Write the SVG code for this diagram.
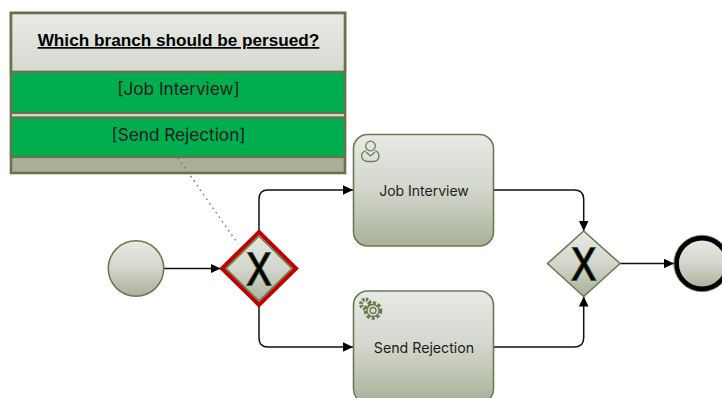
<svg xmlns="http://www.w3.org/2000/svg" width="722" height="398" viewBox="0 0 722 398">
<style>
.s{stroke:#6b7a50;stroke-width:1.6}
.t{font-family:Inter,"Liberation Sans",sans-serif;fill:#1c1c1c;text-anchor:middle}
.c{fill:none;stroke:#111;stroke-width:1.5}
.x{font-family:"Liberation Sans",sans-serif;font-size:47px;fill:#000;stroke:#47552e;stroke-width:2.200;text-anchor:middle;paint-order:stroke}
.i{fill:none;stroke:#6b7a50;stroke-width:1.3}
</style>
<defs>
<linearGradient id="g" x1="0" y1="0" x2="0" y2="1"><stop offset="0" stop-color="#e8eae5"/><stop offset=".5" stop-color="#d2d6cb"/><stop offset="1" stop-color="#a9b09a"/></linearGradient>
<linearGradient id="h" x1="0" y1="0" x2="0" y2="1"><stop offset="0" stop-color="#e8eae5"/><stop offset="1" stop-color="#d6d9d1"/></linearGradient>
<marker id="a" markerUnits="userSpaceOnUse" markerWidth="11" markerHeight="12" refX="10" refY="6" orient="auto"><path d="M0 1.200L10 6L0 10.800Z" fill="#000"/></marker>
</defs>
<g id="annotation">
<rect x="11" y="13" width="334" height="160" fill="#a9af98" stroke="#68734c" stroke-width="2.600"/>
<rect x="11" y="13" width="334" height="59" fill="url(#h)" stroke="#68734c" stroke-width="2.600"/>
<rect x="11" y="72" width="334" height="41" fill="#00ae50" stroke="#68734c" stroke-width="2.200"/>
<rect x="12" y="114" width="332" height="3" fill="#d5d8cf"/>
<rect x="11" y="117.500" width="334" height="39.500" fill="#00ae50" stroke="#68734c" stroke-width="2.200"/>
<text x="178.500" y="46" font-family="Liberation Sans,sans-serif" font-size="17.200" font-weight="700" text-anchor="middle" text-decoration="underline" fill="#000">Which branch should be persued?</text>
<text class="t" x="178.500" y="94.500" font-size="17.200">[Job Interview]</text>
<text class="t" x="178.500" y="141" font-size="17.200">[Send Rejection]</text>
</g>
<g id="connectors">
<path class="c" d="M164 268.500H220.500" marker-end="url(#a)"/>
<path class="c" d="M259 232V199Q259 190 268 190H353" marker-end="url(#a)"/>
<path class="c" d="M259 305V338Q259 347 268 347H353" marker-end="url(#a)"/>
<path class="c" d="M494 190H574Q583.700 190 583.700 199V231" marker-end="url(#a)"/>
<path class="c" d="M494 347H574Q583.700 347 583.700 338V296.500" marker-end="url(#a)"/>
<path class="c" d="M620 263.500H674" marker-end="url(#a)"/>
<path d="M178 158L238 244" fill="none" stroke="#77795f" stroke-width="1.500" stroke-dasharray="1.500 4"/>
</g>
<g id="start"><circle cx="136" cy="268.500" r="27.700" fill="url(#g)" class="s"/></g>
<g id="gateway1">
<path d="M259 232L296 268.500L259 305L222 268.500Z" fill="url(#g)" stroke="#c00000" stroke-width="4"/>
<path d="M259 236L292 268.500L259 301L226 268.500Z" fill="none" class="s"/>
<text class="x" x="259" y="285.500" transform="translate(259 0) scale(.78 1) translate(-259 0)">X</text>
</g>
<g id="task1">
<rect x="353.500" y="134.500" width="140" height="111.500" rx="14" fill="url(#g)" class="s"/>
<circle class="i" cx="370.500" cy="146" r="4.800"/>
<path class="i" d="M366 150.500C359 153 361 161.500 368 161.500H373C380 161.500 381 153 375 150.500M366 152L370.500 156L375 152"/>
<text class="t" x="424" y="196" font-size="14">Job Interview</text>
</g>
<g id="task2">
<rect x="353.500" y="291" width="140" height="112" rx="14" fill="url(#g)" class="s"/>
<circle cx="365.500" cy="304" r="4.500" fill="none" stroke="#6b7a50" stroke-width="4" stroke-dasharray="2.200 1.300"/>
<circle cx="373" cy="310.500" r="7.500" fill="none" stroke="#6b7a50" stroke-width="3.600" stroke-dasharray="3 2"/>
<circle cx="373" cy="310.500" r="6" fill="#dfe1db" stroke="#6b7a50" stroke-width="1.300"/>
<circle cx="373" cy="310.500" r="3" fill="none" stroke="#6b7a50" stroke-width="1.300"/>
<text class="t" x="424" y="353" font-size="14.200">Send Rejection</text>
</g>
<g id="gateway2">
<path d="M583.700 231L620 263.500L583.700 296.500L547.500 263.500Z" fill="url(#g)" class="s"/>
<text class="x" x="583.700" y="280.500" transform="translate(583.700 0) scale(.78 1) translate(-583.700 0)">X</text>
</g>
<g id="end"><circle cx="702" cy="263.500" r="25.500" fill="url(#g)" stroke="#000" stroke-width="4.800"/><circle cx="702" cy="263.500" r="28.200" fill="none" stroke="#6b7a50" stroke-width=".8"/></g>
</svg>
